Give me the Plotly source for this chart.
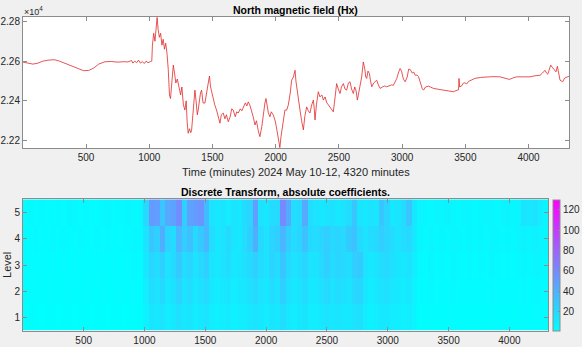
import plotly.graph_objects as go

# ---- Top panel: North magnetic field Hx (nT) ----
minutes = [1, 40, 80, 120, 160, 200, 250, 290, 330, 380, 430, 480, 520, 560, 600, 650, 700, 750, 800, 830,
           860, 870, 885, 900, 915, 930, 945, 960, 975, 990, 1010, 1020,
           1025, 1035, 1045, 1055, 1062, 1070, 1080, 1090, 1100, 1110, 1120, 1130, 1140, 1150, 1160, 1168, 1178, 1190,
           1200, 1210, 1222, 1235, 1248, 1258, 1270, 1282, 1292, 1300, 1308, 1318, 1328, 1335, 1345, 1355, 1361, 1370,
           1380, 1387, 1397, 1405, 1414, 1425, 1440, 1455, 1468, 1476, 1485, 1495, 1506, 1518, 1532, 1545, 1559, 1570,
           1585, 1598, 1610, 1625, 1640, 1652, 1664, 1680, 1692, 1704, 1720, 1732, 1744, 1760, 1772, 1783, 1795, 1809,
           1822, 1836, 1848, 1862, 1875, 1890, 1905, 1915, 1923, 1932, 1942, 1954, 1965, 1980, 1994, 2005, 2015, 2025,
           2033, 2042, 2052, 2060, 2073, 2087, 2100, 2115, 2126, 2140, 2147, 2153, 2160, 2166, 2178, 2192, 2205, 2212,
           2219, 2230, 2245, 2258, 2271, 2285, 2298, 2305, 2311, 2322, 2337, 2350, 2365, 2377, 2390, 2405, 2416, 2430,
           2445, 2456, 2470, 2482, 2495, 2509, 2520, 2535, 2548, 2561, 2575, 2588, 2600, 2614, 2625, 2636, 2646, 2656,
           2667, 2680, 2693, 2705, 2712, 2720, 2730, 2741, 2750, 2760, 2775, 2790, 2799, 2812, 2826, 2845, 2860, 2878,
           2895, 2915, 2931, 2945, 2958, 2970, 2984, 2995, 3010, 3024, 3040, 3052, 3064, 3080, 3092, 3103, 3118, 3130,
           3145, 3160, 3169, 3185, 3209, 3230, 3247, 3290, 3326, 3370, 3405, 3437, 3446, 3450, 3455, 3470, 3485, 3497,
           3510, 3525, 3537, 3555, 3576, 3620, 3669, 3720, 3774, 3810, 3848, 3880, 3906, 3960, 4012, 4050, 4091, 4110,
           4130, 4142, 4152, 4165, 4175, 4186, 4196, 4208, 4217, 4228, 4238, 4249, 4260, 4270, 4285, 4302, 4320]
hx = [22595, 22590, 22585, 22590, 22600, 22605, 22607, 22600, 22590, 22575, 22562, 22552, 22553, 22565, 22585, 22597, 22598, 22595, 22597, 22596,
      22603, 22590, 22600, 22592, 22605, 22590, 22598, 22588, 22600, 22592, 22598, 22600,
      22680, 22740, 22700, 22780, 22820, 22760, 22720, 22740, 22680, 22710, 22660, 22690, 22640, 22560, 22430, 22412, 22480, 22580,
      22540, 22490, 22510, 22460, 22430, 22470, 22380, 22354, 22400, 22290, 22237, 22260, 22240, 22254, 22320, 22410, 22454, 22400,
      22330, 22354, 22420, 22440, 22454, 22390, 22389, 22450, 22490, 22525, 22470, 22440, 22420, 22380, 22354, 22320, 22288, 22330,
      22339, 22310, 22330, 22295, 22320, 22360, 22354, 22320, 22345, 22339, 22360, 22350, 22370, 22390, 22375, 22395, 22380, 22354,
      22320, 22279, 22300, 22250, 22220, 22270, 22350, 22390, 22412, 22380, 22340, 22320, 22345, 22330, 22304, 22270, 22230, 22190,
      22165, 22220, 22270, 22304, 22354, 22354, 22380, 22440, 22504, 22520, 22540, 22554, 22500, 22471, 22400, 22354, 22300, 22280,
      22254, 22320, 22370, 22350, 22339, 22380, 22404, 22360, 22304, 22380, 22446, 22420, 22430, 22404, 22420, 22390, 22379, 22370,
      22355, 22345, 22420, 22487, 22460, 22437, 22470, 22487, 22460, 22454, 22490, 22496, 22460, 22437, 22470, 22450, 22404, 22440,
      22479, 22520, 22596, 22560, 22520, 22513, 22550, 22538, 22500, 22471, 22490, 22500, 22504, 22480, 22463, 22470, 22475, 22471,
      22476, 22480, 22479, 22495, 22513, 22540, 22563, 22550, 22510, 22496, 22520, 22560, 22558, 22540, 22545, 22529, 22530, 22521,
      22490, 22460, 22454, 22470, 22474, 22468, 22463, 22458, 22454, 22450, 22446, 22454, 22455, 22513, 22470, 22475, 22490, 22491,
      22485, 22498, 22501, 22505, 22513, 22518, 22521, 22522, 22521, 22515, 22508, 22516, 22521, 22521, 22521, 22526, 22529, 22540,
      22554, 22540, 22534, 22560, 22580, 22570, 22563, 22550, 22546, 22574, 22530, 22504, 22500, 22496, 22515, 22521, 22524]

hx_tickvals = [22200, 22400, 22600, 22800]
hx_ticktext = ["2.22", "2.24", "2.26", "2.28"]
x_tickvals = [500, 1000, 1500, 2000, 2500, 3000, 3500, 4000]

# ---- Bottom panel: absolute DWT coefficients per level, 45-minute bins ----
bin_width = 45
level1 = [1, 2, 2, 1, 2, 2, 1, 2, 2, 1, 2, 2, 1, 2, 2, 1, 2, 2, 1, 2, 2, 2, 8,
          14, 12, 15, 10, 12, 16, 12, 14, 10, 12, 15, 10, 8, 10, 11, 8, 10, 10, 12, 15, 12, 10, 14, 12, 18, 12, 10, 12,
          14, 10, 10, 12, 15, 12, 14, 12, 12, 15, 16, 10, 8, 10, 12, 12, 10, 10, 8, 10, 6,
          2, 2, 3, 2, 2, 2, 3, 2, 2, 2, 2, 2, 2, 3, 2, 2, 2, 2, 2, 3, 2, 3, 3, 2]
level2 = [2, 2, 3, 2, 2, 3, 2, 2, 3, 2, 2, 3, 2, 2, 3, 2, 2, 3, 2, 3, 3, 2, 10,
          18, 15, 20, 12, 16, 22, 15, 18, 12, 16, 20, 12, 10, 12, 14, 10, 12, 13, 16, 20, 15, 12, 18, 15, 25, 16, 12, 15,
          18, 12, 12, 16, 20, 15, 18, 16, 15, 20, 22, 12, 10, 12, 15, 16, 13, 12, 10, 12, 8,
          3, 3, 4, 3, 3, 3, 4, 3, 3, 3, 3, 3, 3, 4, 3, 3, 3, 3, 3, 4, 3, 4, 4, 3]
level3 = [2, 3, 2, 3, 2, 3, 2, 3, 2, 3, 2, 3, 2, 3, 3, 2, 3, 2, 3, 3, 4, 3, 12,
          22, 18, 25, 15, 20, 28, 18, 22, 15, 20, 25, 14, 12, 15, 18, 12, 14, 16, 20, 25, 18, 15, 22, 18, 30, 20, 15, 18,
          22, 15, 14, 20, 25, 18, 22, 20, 18, 25, 28, 15, 12, 14, 18, 20, 16, 14, 12, 15, 10,
          4, 3, 5, 3, 4, 3, 5, 4, 3, 4, 3, 4, 3, 5, 4, 3, 4, 3, 4, 5, 4, 6, 5, 4]
level4 = [3, 3, 4, 3, 3, 4, 3, 4, 3, 3, 4, 3, 3, 4, 3, 4, 3, 3, 4, 4, 5, 4, 15,
          30, 25, 42, 22, 18, 38, 26, 32, 20, 28, 38, 18, 12, 15, 20, 14, 12, 18, 25, 42, 20, 15, 22, 25, 38, 26, 18, 22,
          32, 20, 18, 22, 26, 20, 22, 20, 28, 32, 20, 15, 18, 20, 26, 22, 18, 15, 18, 20, 12,
          5, 4, 6, 4, 5, 4, 6, 5, 4, 5, 4, 5, 4, 6, 5, 4, 5, 4, 6, 7, 6, 8, 6, 5]
level5 = [3, 4, 3, 4, 3, 3, 4, 3, 5, 4, 3, 4, 3, 3, 4, 5, 3, 4, 4, 5, 4, 5, 20,
          52, 50, 30, 45, 48, 58, 25, 48, 52, 55, 35, 15, 12, 14, 10, 15, 12, 18, 22, 50, 15, 12, 18, 20, 60, 45, 18, 20,
          45, 18, 15, 12, 14, 16, 12, 15, 18, 30, 14, 12, 15, 13, 30, 22, 12, 14, 18, 30, 12,
          6, 5, 4, 6, 5, 7, 5, 4, 6, 5, 4, 5, 6, 5, 4, 6, 7, 5, 6, 14, 12, 15, 10, 6]
levels = [1, 2, 3, 4, 5]
coef_min, coef_max = 1, 130
cbar_ticks = [20, 40, 60, 80, 100, 120]

bin_centers = [bin_width / 2 + bin_width * k for k in range(len(level1))]
z = [level1, level2, level3, level4, level5]

W, H = 582, 347
FONT = "Liberation Sans, Arial, sans-serif"
TXT = "#262626"
AX = "#8c8c8c"

def px_x(p):
    return p / W

def px_y(p):
    return 1 - p / H

fig = go.Figure()
fig.add_trace(go.Scatter(x=minutes, y=hx, mode="lines",
                         line=dict(color="rgb(225,40,40)", width=0.8),
                         xaxis="x", yaxis="y", showlegend=False))
fig.add_trace(go.Heatmap(x=bin_centers, y=levels, z=z, xaxis="x2", yaxis="y2",
                         zmin=coef_min, zmax=coef_max,
                         colorscale=[[0, "rgb(0,255,255)"], [1, "rgb(255,0,255)"]],
                         colorbar=dict(x=px_x(552.5), xanchor="left", xpad=0, ypad=0,
                                       y=px_y(330.7), yanchor="bottom",
                                       len=(330.7 - 199.3) / H, lenmode="fraction",
                                       thickness=7, thicknessmode="pixels",
                                       tickvals=cbar_ticks, ticks="inside", ticklen=2,
                                       tickcolor=AX, outlinecolor=AX, outlinewidth=1,
                                       tickfont=dict(family=FONT, size=10, color=TXT)),
                         showscale=True))

axis_common = dict(showline=True, linecolor=AX, linewidth=1, mirror="ticks",
                   ticks="inside", ticklen=4, tickcolor=AX, showgrid=False, zeroline=False,
                   tickfont=dict(family=FONT, size=10, color=TXT))

fig.update_layout(
    width=W, height=H, margin=dict(l=0, r=0, t=0, b=0),
    paper_bgcolor="#f0f0f0", plot_bgcolor="white",
    xaxis=dict(domain=[px_x(23), px_x(570)], range=[1, 4320], tickvals=x_tickvals,
               anchor="y", **axis_common),
    yaxis=dict(domain=[px_y(148), px_y(17)], range=[22163, 22822],
               tickvals=hx_tickvals, ticktext=hx_ticktext, anchor="x", **axis_common),
    xaxis2=dict(domain=[px_x(23), px_x(549.3)], range=[1, 4320], tickvals=x_tickvals,
                anchor="y2", **axis_common),
    yaxis2=dict(domain=[px_y(330.7), px_y(199.3)], range=[0.5, 5.5], tickvals=levels,
                anchor="x2", **axis_common),
    annotations=[
        dict(text="<b>North magnetic field (Hx)</b>", x=px_x(296.5), y=px_y(9.5),
             xref="paper", yref="paper", showarrow=False, xanchor="center", yanchor="middle",
             font=dict(family=FONT, size=10.5, color="black")),
        dict(text="Time (minutes) 2024 May 10-12, 4320 minutes", x=px_x(296.5), y=px_y(172),
             xref="paper", yref="paper", showarrow=False, xanchor="center", yanchor="middle",
             font=dict(family=FONT, size=11, color=TXT)),
        dict(text="×10<sup>4</sup>", x=px_x(22), y=px_y(11), xref="paper", yref="paper",
             showarrow=False, xanchor="left", yanchor="middle",
             font=dict(family=FONT, size=9, color=TXT)),
        dict(text="<b>Discrete Transform, absolute coefficients.</b>", x=px_x(286), y=px_y(192),
             xref="paper", yref="paper", showarrow=False, xanchor="center", yanchor="middle",
             font=dict(family=FONT, size=10.5, color="black")),
        dict(text="Level", x=px_x(7), y=px_y(265), xref="paper", yref="paper", textangle=-90,
             showarrow=False, xanchor="center", yanchor="middle",
             font=dict(family=FONT, size=11, color=TXT)),
    ],
)

fig.write_html("out.html")
